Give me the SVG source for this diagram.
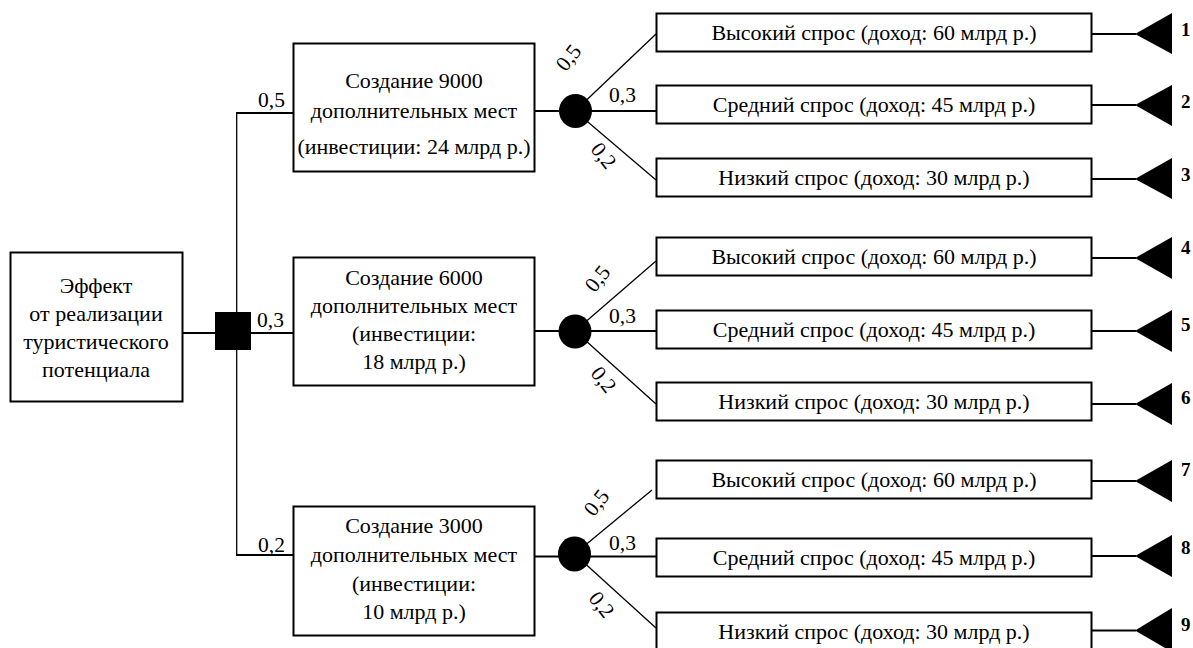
<svg xmlns="http://www.w3.org/2000/svg" width="1193" height="648" viewBox="0 0 1193 648">
  <style>
    .box { fill: #fff; stroke: #000; stroke-width: 2; }
    text { fill: #000; font-family: "Liberation Serif", "Times New Roman", serif; }
    .t { font-size: 22px; text-anchor: middle; }
    .p { font-size: 21.5px; }
    .n { font-size: 19px; font-weight: bold; }
    .ln { stroke: #000; stroke-width: 2; fill: none; }
    .thin { stroke: #000; stroke-width: 1.3; fill: none; }
    .chance { fill: #000; }
    .end { fill: #000; }
  </style>

  <!-- connectors -->
  <g id="connectors">
    <!-- root to decision and first-level branches -->
    <line class="ln" x1="182" y1="333" x2="293" y2="333"/>
    <line class="thin" x1="236.7" y1="113" x2="236.7" y2="555"/>
    <line class="ln" x1="236" y1="113" x2="293" y2="113"/>
    <line class="ln" x1="236" y1="555" x2="293" y2="555"/>

    <!-- branch 1 -->
    <line class="ln" x1="534" y1="111" x2="575" y2="111"/>
    <line class="thin" x1="575" y1="111" x2="656" y2="34"/>
    <line class="ln" x1="575" y1="111" x2="656" y2="111"/>
    <line class="thin" x1="575" y1="111" x2="656" y2="180"/>

    <!-- branch 2 -->
    <line class="ln" x1="534" y1="331" x2="575" y2="331"/>
    <line class="thin" x1="575" y1="331" x2="656" y2="261"/>
    <line class="ln" x1="575" y1="331" x2="656" y2="331"/>
    <line class="thin" x1="575" y1="331" x2="656" y2="404"/>

    <!-- branch 3 -->
    <line class="ln" x1="531" y1="556.5" x2="656" y2="556.5"/>
    <line class="thin" x1="574.5" y1="554" x2="652" y2="490"/>
    <line class="thin" x1="574.5" y1="554" x2="656" y2="628"/>

    <!-- outcome leads -->
    <line class="ln" x1="1091" y1="34" x2="1136" y2="34"/>
    <line class="ln" x1="1091" y1="105" x2="1136" y2="105"/>
    <line class="ln" x1="1091" y1="179" x2="1136" y2="179"/>
    <line class="ln" x1="1091" y1="258" x2="1136" y2="258"/>
    <line class="ln" x1="1091" y1="331" x2="1136" y2="331"/>
    <line class="ln" x1="1091" y1="404" x2="1136" y2="404"/>
    <line class="ln" x1="1091" y1="481" x2="1136" y2="481"/>
    <line class="ln" x1="1091" y1="556" x2="1136" y2="556"/>
    <line class="ln" x1="1091" y1="630.5" x2="1136" y2="630.5"/>

    <!-- probability labels -->
    <text class="p" x="258" y="107">0,5</text>
    <text class="p" x="257" y="327">0,3</text>
    <text class="p" x="258" y="552">0,2</text>

    <text class="p" x="609" y="102">0,3</text>
    <text class="p" x="609" y="323">0,3</text>
    <text class="p" x="609" y="550">0,3</text>

    <text class="p" text-anchor="middle" transform="translate(574 62) rotate(-52)">0,5</text>
    <text class="p" text-anchor="middle" transform="translate(603 283) rotate(-52)">0,5</text>
    <text class="p" text-anchor="middle" transform="translate(602 507) rotate(-52)">0,5</text>

    <text class="p" text-anchor="middle" transform="translate(598 160) rotate(52)">0,2</text>
    <text class="p" text-anchor="middle" transform="translate(598 384) rotate(52)">0,2</text>
    <text class="p" text-anchor="middle" transform="translate(596 609) rotate(52)">0,2</text>
  </g>

  <!-- root node -->
  <g id="root">
    <rect class="box" x="10.5" y="252.5" width="172" height="149"/>
    <text class="t" x="96" y="293">Эффект</text>
    <text class="t" x="96" y="321">от реализации</text>
    <text class="t" x="96" y="349">туристического</text>
    <text class="t" x="96" y="377">потенциала</text>
  </g>

  <!-- decision node -->
  <g id="decision">
    <rect x="215" y="312" width="36" height="38" fill="#000"/>
  </g>

  <!-- alternatives -->
  <g id="alt-9000">
    <rect class="box" x="293.5" y="43.5" width="241" height="128"/>
    <text class="t" x="414" y="88">Создание 9000</text>
    <text class="t" x="414" y="118">дополнительных мест</text>
    <text class="t" x="414" y="154">(инвестиции: 24 млрд р.)</text>
  </g>
  <g id="alt-6000">
    <rect class="box" x="293.5" y="257.5" width="241" height="128"/>
    <text class="t" x="414" y="285">Создание 6000</text>
    <text class="t" x="414" y="313">дополнительных мест</text>
    <text class="t" x="414" y="341">(инвестиции:</text>
    <text class="t" x="414" y="369">18 млрд р.)</text>
  </g>
  <g id="alt-3000">
    <rect class="box" x="293.5" y="506.5" width="241" height="129"/>
    <text class="t" x="414" y="533">Создание 3000</text>
    <text class="t" x="414" y="562">дополнительных мест</text>
    <text class="t" x="414" y="591">(инвестиции:</text>
    <text class="t" x="414" y="619">10 млрд р.)</text>
  </g>

  <!-- chance nodes -->
  <g id="chance-1"><ellipse class="chance" cx="575.5" cy="111" rx="16.5" ry="17"/></g>
  <g id="chance-2"><ellipse class="chance" cx="575" cy="331.5" rx="16.5" ry="17"/></g>
  <g id="chance-3"><ellipse class="chance" cx="574.5" cy="554" rx="16.5" ry="17.5"/></g>

  <!-- outcomes -->
  <g id="out-1">
    <rect class="box" x="656.5" y="13.5" width="435" height="38"/>
    <text class="t" x="874" y="40">Высокий спрос (доход: 60 млрд р.)</text>
  </g>
  <g id="out-2">
    <rect class="box" x="656.5" y="85.5" width="435" height="38"/>
    <text class="t" x="874" y="112">Средний спрос (доход: 45 млрд р.)</text>
  </g>
  <g id="out-3">
    <rect class="box" x="656.5" y="158.5" width="435" height="38"/>
    <text class="t" x="874" y="185">Низкий спрос (доход: 30 млрд р.)</text>
  </g>
  <g id="out-4">
    <rect class="box" x="656.5" y="237.5" width="435" height="38"/>
    <text class="t" x="874" y="264">Высокий спрос (доход: 60 млрд р.)</text>
  </g>
  <g id="out-5">
    <rect class="box" x="656.5" y="310.5" width="435" height="38"/>
    <text class="t" x="874" y="337">Средний спрос (доход: 45 млрд р.)</text>
  </g>
  <g id="out-6">
    <rect class="box" x="656.5" y="382.5" width="435" height="38"/>
    <text class="t" x="874" y="409">Низкий спрос (доход: 30 млрд р.)</text>
  </g>
  <g id="out-7">
    <rect class="box" x="656.5" y="460.5" width="435" height="38"/>
    <text class="t" x="874" y="487">Высокий спрос (доход: 60 млрд р.)</text>
  </g>
  <g id="out-8">
    <rect class="box" x="656.5" y="538.5" width="435" height="38"/>
    <text class="t" x="874" y="565">Средний спрос (доход: 45 млрд р.)</text>
  </g>
  <g id="out-9">
    <rect class="box" x="656.5" y="612.5" width="435" height="38"/>
    <text class="t" x="874" y="639">Низкий спрос (доход: 30 млрд р.)</text>
  </g>

  <!-- terminal markers -->
  <g id="end-1"><polygon class="end" points="1135,34 1172,13 1172,54"/><text class="n" x="1181" y="36">1</text></g>
  <g id="end-2"><polygon class="end" points="1135,105 1172,85 1172,126"/><text class="n" x="1181" y="108">2</text></g>
  <g id="end-3"><polygon class="end" points="1135,179 1172,158 1172,199"/><text class="n" x="1181" y="181">3</text></g>
  <g id="end-4"><polygon class="end" points="1135,258 1172,237 1172,279"/><text class="n" x="1181" y="254">4</text></g>
  <g id="end-5"><polygon class="end" points="1135,331 1172,310 1172,352"/><text class="n" x="1181" y="331">5</text></g>
  <g id="end-6"><polygon class="end" points="1135,404 1172,383 1172,425"/><text class="n" x="1181" y="404">6</text></g>
  <g id="end-7"><polygon class="end" points="1135,481 1172,460 1172,502"/><text class="n" x="1181" y="476">7</text></g>
  <g id="end-8"><polygon class="end" points="1135,556 1172,535 1172,577"/><text class="n" x="1181" y="554">8</text></g>
  <g id="end-9"><polygon class="end" points="1135,630.5 1172,608 1172,652"/><text class="n" x="1181" y="631">9</text></g>
</svg>
